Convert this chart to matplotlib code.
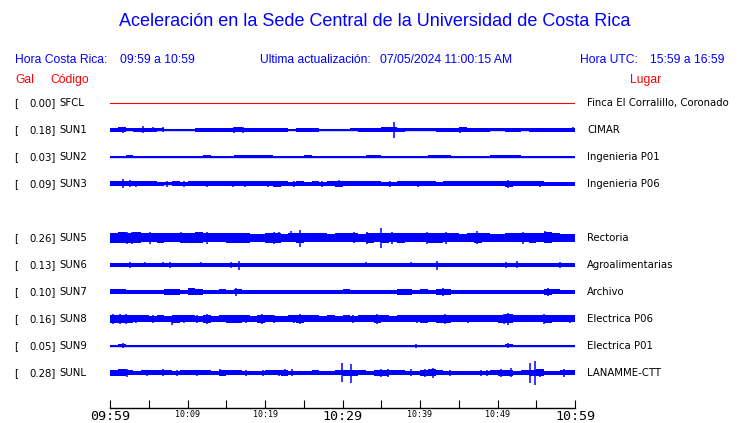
import numpy as np
import matplotlib
matplotlib.use("Agg")
import matplotlib.pyplot as plt

# ---------------- data ----------------
codes = ["SFCL", "SUN1", "SUN2", "SUN3", "SUN5", "SUN6", "SUN7", "SUN8", "SUN9", "SUNL"]
gal = [0.00, 0.18, 0.03, 0.09, 0.26, 0.13, 0.10, 0.16, 0.05, 0.28]
places = ["Finca El Corralillo, Coronado", "CIMAR", "Ingenieria P01", "Ingenieria P06",
          "Rectoria", "Agroalimentarias", "Archivo", "Electrica P06", "Electrica P01", "LANAMME-CTT"]
tick_labels = ["09:59", "10:09", "10:19", "10:29", "10:39", "10:49", "10:59"]

# per-minute envelope half-amplitude (pixel-ish units)
env_SFCL = [0.0] * 60
env_SUN1 = [2, 2.5, 1.5, 2, 2, 2, 1.5, 1, 0.8, 0.8, 1, 2, 2, 2, 2, 2, 2.5, 2, 2, 2,
            2, 2, 2, 1, 2, 2, 2, 1, 1, 1, 1, 1.5, 2, 2, 2, 2.5, 2.5, 2, 1.5, 1.5,
            1.5, 1.5, 2, 2, 2, 2.5, 2, 2, 2, 1.5, 1.5, 2, 2, 1.5, 2, 2, 2, 2, 2, 2]
env_SUN2 = [1, 0.8, 1.5, 1, 1, 0.6, 0.6, 0.6, 0.6, 0.6, 1.2, 0.8, 1.5, 1, 0.6, 1, 1.5, 1.5, 1.5, 1.5,
            1.5, 1, 1.2, 0.6, 1.2, 1.5, 1.2, 0.8, 0.8, 1.2, 1, 0.6, 0.6, 1.5, 1.5, 1, 1.2, 0.6, 0.8, 1,
            0.6, 1.5, 1.5, 1.5, 1, 1.2, 1, 0.6, 0.6, 1.5, 1.5, 1.5, 1.5, 0.8, 1.2, 1.2, 1.2, 0.8, 0.6, 1]
env_SUN3 = [2.5, 2.5, 2.5, 2.5, 2.5, 2.5, 2.2, 1.5, 2.5, 1.8, 2.5, 2.5, 2.5, 2.5, 2.5, 2.5, 2.5, 2.5, 2.5, 2.5,
            2.5, 2.8, 2.5, 2.2, 2.5, 2.2, 2.5, 2.2, 2.5, 2.8, 2.5, 2.5, 2.5, 2.5, 2.5, 2.2, 2, 2.5, 2.5, 2.5,
            2.5, 2.5, 2.2, 2.5, 2.5, 2.5, 2.5, 2.5, 2.5, 2.5, 2.5, 3, 2.5, 2.5, 2.5, 2.5, 2.2, 2.2, 2.2, 2.2]
env_SUN5 = [5, 5.5, 5, 5.5, 4.5, 4.5, 5, 4.5, 4.5, 5, 5, 5.5, 4.5, 4.5, 4.5, 5, 5, 5, 4, 4,
            5, 5, 4, 4.5, 5, 4.5, 4.5, 4.5, 4, 4.5, 4.5, 4.5, 4, 5, 4.5, 5, 4.5, 5, 4.5, 4.5,
            4.5, 5, 5, 4.5, 4.5, 4, 4.5, 5, 4.5, 4, 4, 4.5, 4.5, 4.5, 5, 4.5, 5.5, 4.5, 4, 4]
env_SUN6 = [1.7, 1.7, 2.2, 1.7, 2, 1.7, 2, 2.2, 1.7, 1.7, 1.7, 2.2, 1.7, 1.7, 1.7, 2.2, 1.7, 1.7, 1.7, 1.7,
            1.7, 1.7, 1.7, 1.7, 1.7, 1.7, 1.7, 1.7, 1.7, 1.7, 1.7, 1.7, 1.7, 2, 1.7, 1.7, 1.7, 1.7, 1.7, 1.7,
            1.7, 1.7, 2, 1.7, 1.7, 1.7, 1.7, 1.7, 1.7, 1.7, 1.7, 2, 2.2, 1.7, 1.7, 1.7, 1.7, 1.7, 2, 2.3]
env_SUN7 = [2.5, 2.5, 1.8, 1.8, 1.8, 2.2, 2.2, 3, 3, 2, 3.5, 3, 2.2, 1.8, 2.5, 1.8, 2.5, 1.8, 1.8, 2.2,
            2.2, 1.8, 2.2, 1.8, 2.2, 1.8, 2.2, 1.8, 2.2, 2.2, 2.5, 1.8, 1.8, 2, 1.8, 1.8, 1.8, 3, 2.8, 2.2,
            2.5, 1.8, 3, 3, 2.2, 2, 2.2, 1.8, 2.2, 1.8, 2.2, 1.8, 1.8, 1.8, 1.8, 2, 3, 2.5, 1.8, 1.8]
env_SUN8 = [4, 4, 4, 3.5, 3.5, 3, 3.5, 3, 4, 3.5, 3.5, 3, 4, 3, 3.5, 4, 4, 3.5, 3, 4,
            3.5, 3, 3, 3.5, 4, 3.5, 3.5, 3, 3.5, 3, 3.5, 3, 3.5, 3.5, 4, 3.5, 3, 3.5, 3.5, 3.5,
            4, 3.5, 4, 4, 3.5, 3.5, 3.5, 3.5, 3.5, 3.5, 4, 4.5, 3.5, 3.5, 3.5, 3.5, 4, 3.5, 3.5, 3.5]
env_SUN9 = [1.3, 1.5, 1.3, 1.3, 1.3, 0.8, 0.8, 1.3, 1.3, 1.3, 1.3, 1.3, 1.3, 0.8, 1.3, 1.3, 0.8, 1.3, 1.3, 1.3,
            1.3, 1.3, 0.8, 1.3, 1.3, 1.3, 1.3, 0.8, 0.8, 1.3, 1.3, 1.3, 1.3, 1.3, 1.3, 1.3, 1.3, 1.3, 1.3, 1.3,
            1.3, 1.3, 1.3, 1.3, 1.3, 1.3, 1.3, 1.3, 1.3, 1.3, 1.3, 1.5, 1.3, 1.3, 1.3, 1.3, 1.3, 1.3, 1.3, 0.8]
env_SUNL = [3, 3.5, 2.5, 2, 2.5, 2.5, 2.5, 2.5, 2, 2.5, 2.5, 2.5, 2.5, 2, 3, 2.5, 2.5, 2, 2, 2,
            2.5, 2.5, 3, 2, 2, 2, 2.5, 2, 2, 2.5, 3, 3, 2.5, 2, 3, 3, 2.5, 2.5, 2, 2,
            3, 3.5, 2.5, 2, 2, 2, 2, 2, 2, 2.5, 3, 3, 2, 2.5, 3, 3.5, 2, 2, 2.5, 2.5]
envelopes = [env_SFCL, env_SUN1, env_SUN2, env_SUN3, env_SUN5,
             env_SUN6, env_SUN7, env_SUN8, env_SUN9, env_SUNL]

# isolated peaks: (minute, up, down)
pk_SFCL = []
pk_SUN1 = [(1.7, 3, 3), (4.3, 3.5, 3.5), (5.6, 2.5, 2.5), (6.9, 2.5, 2.5), (16.0, 3, 3),
           (17.2, 3, 3), (36.6, 8, 8), (45.2, 3, 3), (59.8, 2.5, 2.5)]
pk_SUN2 = []
pk_SUN3 = [(1.7, 4.5, 4.5), (2.6, 3.5, 3.5), (3.4, 3, 3), (7.3, 3, 3), (9.5, 3, 3), (12.5, 3, 3),
           (15.9, 3, 3), (17.4, 3, 3), (20.4, 3, 3), (21.8, 3, 3), (23.7, 3, 3), (27.3, 3, 3),
           (29.5, 3.5, 3.5), (36.1, 3, 3), (39.8, 3, 3), (51.4, 4, 4), (55.5, 3, 3)]
pk_SUN5 = [(1.3, 6, 5), (2.2, 6, 6), (2.8, 6, 6), (5.2, 6, 6), (9.2, 6, 5), (9.9, 5, 5),
           (12.5, 6, 6), (16.8, 5, 5), (17.5, 5, 5), (21.1, 6, 6), (21.8, 6, 5), (23.4, 7, 2),
           (24.5, 8, 9), (31.5, 6, 5), (33.2, 6, 6), (35.0, 10, 10), (36.4, 6, 6), (40.9, 6, 6),
           (43.4, 6, 6), (47.3, 7, 6), (53.3, 6, 6), (56.1, 7, 5)]
pk_SUN6 = [(2.6, 3, 3), (4.5, 3, 2.5), (6.8, 2.5, 2.5), (7.7, 3, 3), (11.8, 3, 2.5), (15.6, 2.8, 2.8),
           (16.7, 4, 5.5), (33, 2.5, 2.5), (38.8, 3, 2.5), (42.2, 4, 5), (51.1, 3, 3), (52.5, 3.5, 3.5),
           (58, 3, 3)]
pk_SUN7 = [(16.2, 4, 4), (43.0, 4, 4), (56.5, 4, 4)]
pk_SUN8 = [(0.4, 5, 5), (1.3, 5, 5), (2.1, 5, 5), (3.4, 4, 4), (5.6, 4, 4), (8, 2, 6), (9.5, 4, 4),
           (11.2, 4, 4), (12.5, 5, 5), (15.9, 4, 4), (17.6, 4, 4), (19.6, 5, 5), (21.1, 4, 4),
           (23.7, 4, 4), (24.5, 5, 5), (31.4, 4, 4), (34.5, 5, 5), (39.6, 4, 4), (40.9, 4, 4),
           (43.2, 5, 5), (46.2, 4, 4), (50.8, 5, 5), (51.4, 6, 6), (56.0, 5, 5), (56.8, 4, 4),
           (59.4, 4, 4)]
pk_SUN9 = [(1.7, 2.5, 2.5), (39.5, 2, 2), (51.4, 2.5, 2.5)]
pk_SUNL = [(1.3, 3.5, 3.5), (2.2, 4, 4), (4.8, 3, 3), (6.9, 3.5, 3.5), (8.6, 3, 3), (11.2, 3, 3),
           (14.2, 3.5, 3.5), (17.5, 3, 3), (19.7, 3, 3), (21.8, 3, 3), (22.6, 3.5, 3), (23.5, 3.5, 3.5),
           (29.9, 10, 9), (31.1, 9, 10), (35.0, 4, 4), (35.9, 4, 4), (38.9, 3.5, 3.5), (40.6, 4, 4),
           (41.7, 5, 5), (43.9, 3, 3), (47.9, 3, 3), (48.7, 3, 3), (50.5, 4, 4), (51.7, 4.5, 4.5),
           (54.2, 10, 10), (54.8, 12, 12), (55.5, 4, 4), (58.6, 4, 4)]
peaks = [pk_SFCL, pk_SUN1, pk_SUN2, pk_SUN3, pk_SUN5, pk_SUN6, pk_SUN7, pk_SUN8, pk_SUN9, pk_SUNL]

# ---------------- layout ----------------
W, H = 740, 423
BLUE = "#0000ff"
RED = "#ff0000"
slots = [0, 1, 2, 3, 5, 6, 7, 8, 9, 10]   # SUN4 slot is empty
row0, dy = 103, 27

fig = plt.figure(figsize=(W / 100, H / 100), dpi=100)
ax = fig.add_axes([110 / W, 15 / H, 465 / W, 318 / H])
ax.set_xlim(0, 60)
ax.set_ylim(408, 90)
for s in ["top", "left", "right"]:
    ax.spines[s].set_visible(False)
ax.spines["bottom"].set_linewidth(1.0)
ax.set_yticks([])

def P(x, y):
    return x / W, 1 - y / H

edges = np.arange(61)
for i, code in enumerate(codes):
    yc = row0 + dy * slots[i]
    env = np.array(envelopes[i] + [envelopes[i][-1]])
    if code == "SFCL":
        ax.plot([0, 60], [yc, yc], color=RED, lw=0.8)
    else:
        ax.plot([0, 60], [yc, yc], color=BLUE, lw=1.0)
        ax.fill_between(edges, yc - env, yc + env, step="post", color=BLUE, lw=0)
        for t, up, dn in peaks[i]:
            ax.vlines(t, yc - up, yc + dn, color=BLUE, lw=1.1)
    lab = dict(fontsize=7.3, va="center", family="DejaVu Sans")
    fig.text(*P(14, yc), "[", ha="left", **lab)
    fig.text(*P(56, yc), f"{gal[i]:.2f}]", ha="right", **lab)
    fig.text(*P(59, yc), code, ha="left", **lab)
    fig.text(*P(587, yc), places[i], ha="left", **lab)

# time axis
ax.set_xticks(np.arange(0, 61, 5))
labs = []
for k in range(13):
    labs.append(tick_labels[k // 2] if k % 2 == 0 else "")
ax.set_xticklabels(labs)
ax.tick_params(axis="x", direction="in", length=6, width=0.8, pad=1.5)
for k, lab in enumerate(ax.get_xticklabels()):
    lab.set_family("DejaVu Sans Mono")
    lab.set_fontsize(9.6 if k in (0, 6, 12) else 6)

# header texts
fig.text(*P(375, 22), "Aceleración en la Sede Central de la Universidad de Costa Rica",
         fontsize=13, color=BLUE, ha="center", va="center", family="Liberation Sans")
hdr = dict(fontsize=8.7, color=BLUE, va="center", ha="left", family="Liberation Sans")
fig.text(*P(15, 60), "Hora Costa Rica:", **hdr)
fig.text(*P(120, 60), "09:59 a 10:59", **hdr)
fig.text(*P(260, 60), "Ultima actualización:", **hdr)
fig.text(*P(380, 60), "07/05/2024 11:00:15 AM", **hdr)
fig.text(*P(580, 60), "Hora UTC:", **hdr)
fig.text(*P(650, 60), "15:59 a 16:59", **hdr)
red = dict(fontsize=8.7, color=RED, va="center", ha="left", family="Liberation Sans")
fig.text(*P(15, 80), "Gal", **red)
fig.text(*P(50, 80), "Código", **red)
fig.text(*P(630, 80), "Lugar", **red)

fig.savefig("out.png", dpi=100)
